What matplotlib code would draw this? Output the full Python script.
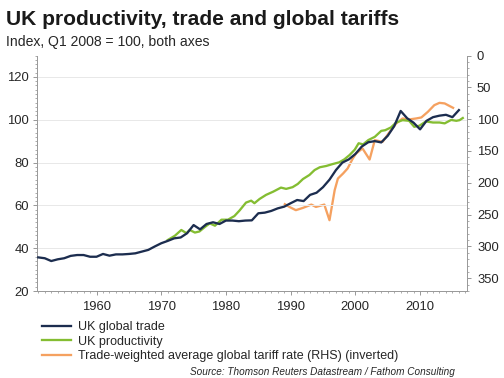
import matplotlib
matplotlib.use("Agg")
import matplotlib.pyplot as plt
from matplotlib.ticker import MultipleLocator
from matplotlib.lines import Line2D

plt.rcParams['font.family'] = ['Liberation Sans', 'DejaVu Sans']

# ---- data ----
trade_years = list(range(1951, 2017))
trade_vals = [35.7, 35.3, 34.0, 34.8, 35.3, 36.4, 36.8, 36.8, 36.0, 36.0,
              37.3, 36.5, 37.1, 37.1, 37.3, 37.6, 38.4, 39.2, 40.8, 42.3,
              43.4, 44.6, 45.0, 47.0, 50.8, 48.8, 51.3, 52.1, 51.3, 52.9,
              52.9, 52.6, 52.9, 53.0, 56.3, 56.6, 57.4, 58.6, 59.4, 61.0,
              62.5, 62.0, 64.9, 65.9, 68.5, 72.0, 76.5, 80.0, 81.5, 84.0,
              87.5, 89.5, 90.0, 89.4, 92.5, 97.0, 104.1, 100.7, 98.6, 95.5,
              99.5, 101.2, 101.9, 102.3, 101.2, 104.5]

prod_years = [1971.0, 1972.1, 1973.1, 1973.9, 1974.4, 1975.2, 1975.9, 1976.7,
              1977.5, 1978.3, 1979.3, 1980.3, 1981.3, 1982.1, 1983.1, 1983.9,
              1984.4, 1985.2, 1986.2, 1987.3, 1988.5, 1989.3, 1990.3, 1991.1,
              1991.9, 1992.9, 1993.7, 1994.5, 1995.5, 1996.5, 1997.5, 1998.3,
              1999.1, 1999.9, 2000.5, 2001.2, 2002.0, 2003.0, 2004.0, 2004.6,
              2005.5, 2006.3, 2007.3, 2008.3, 2009.1, 2009.9, 2010.9, 2012.0,
              2013.0, 2013.8, 2014.8, 2015.6, 2016.1, 2016.6]
prod_vals = [43.8, 45.8, 48.5, 47.0, 48.5, 47.3, 47.8, 49.8,
             51.6, 50.5, 53.3, 53.3, 55.0, 57.6, 61.3, 62.2,
             61.0, 63.0, 64.9, 66.4, 68.3, 67.7, 68.5, 70.0,
             72.3, 74.2, 76.5, 77.8, 78.4, 79.3, 80.1, 81.5,
             83.5, 86.0, 89.0, 88.5, 90.5, 92.0, 94.8, 95.1,
             96.4, 98.7, 99.8, 99.5, 96.7, 97.2, 99.2, 98.7,
             98.7, 98.3, 99.9, 99.5, 99.8, 100.8]

tariff_years = [1989.1, 1989.8, 1990.8, 1991.9, 1993.2, 1993.9, 1994.5, 1995.2,
                1996.0, 1996.8, 1997.3, 1998.1, 1998.8, 1999.6, 2000.1, 2001.1,
                2002.2, 2003.0, 2004.2, 2005.3, 2006.3, 2007.3, 2008.3, 2009.4,
                2010.2, 2011.2, 2012.2, 2013.0, 2013.8, 2014.6, 2015.1]
tariff_vals = [233.6, 237.9, 243.0, 239.4, 234.2, 237.9, 236.3, 234.2,
               258.8, 211.6, 193.3, 185.4, 177.5, 161.8, 154.0, 146.0,
               163.4, 133.0, 135.7, 120.0, 106.8, 98.9, 100.5, 98.9,
               97.3, 88.5, 78.0, 74.4, 75.3, 79.6, 82.2]

labels = ["UK global trade", "UK productivity",
          "Trade-weighted average global tariff rate (RHS) (inverted)"]
x_ticks = [1960, 1970, 1980, 1990, 2000, 2010]
left_ticks = [20, 40, 60, 80, 100, 120]
right_ticks = [0, 50, 100, 150, 200, 250, 300, 350]

NAVY = "#1c2d4f"
GREEN = "#84bd32"
ORANGE = "#f5a160"
SPINE = "#9a9a9a"
TXT = "#262626"

fig = plt.figure(figsize=(7, 5.25), dpi=72)
ax = fig.add_axes([37/504, 1-291/378, (467-37)/504, (291-55.5)/378])
ax2 = ax.twinx()

ax.plot(trade_years, trade_vals, color=NAVY, lw=2.3, zorder=4)
ax.plot(prod_years, prod_vals, color=GREEN, lw=2.3, zorder=3)
ax2.plot(tariff_years, tariff_vals, color=ORANGE, lw=2.3, zorder=2)

ax.set_zorder(ax2.get_zorder() + 1)
ax.patch.set_visible(False)

ax.set_xlim(1950.8, 2017.25)
ax.set_ylim(20, 130)
ax2.set_ylim(370, 0)

ax.set_xticks(x_ticks)
ax.xaxis.set_minor_locator(MultipleLocator(1))
ax.set_yticks(left_ticks)
ax.yaxis.set_minor_locator(MultipleLocator(2))
ax2.set_yticks(right_ticks)
ax2.yaxis.set_minor_locator(MultipleLocator(10))

for y in left_ticks[1:]:
    ax.axhline(y, color="#e8e8e8", lw=1, zorder=0)

for a in (ax, ax2):
    for s in a.spines.values():
        s.set_color(SPINE)
        s.set_linewidth(1)
    a.spines['top'].set_visible(False)
    a.tick_params(which='major', direction='out', length=4, color=SPINE,
                  labelsize=13, labelcolor=TXT, width=1)
    a.tick_params(which='minor', direction='out', length=2, color=SPINE, width=0.8)
ax.tick_params(axis='y', pad=4)
ax2.tick_params(axis='y', pad=6)
ax.tick_params(axis='x', pad=6)

fig.text(6/504, 1-25/378, "UK productivity, trade and global tariffs",
         fontsize=21, fontweight='bold', color="#1a1a1a", ha='left', va='baseline')
fig.text(6/504, 1-46/378, "Index, Q1 2008 = 100, both axes",
         fontsize=14, color=TXT, ha='left', va='baseline')

handles = [Line2D([], [], color=c, lw=2.3) for c in (NAVY, GREEN, ORANGE)]
fig.legend(handles, labels, loc='upper left', bbox_to_anchor=(42/504, 1-321/378),
           frameon=False, fontsize=12.5, handlelength=2.3, handletextpad=0.55,
           labelspacing=0.2, borderpad=0, borderaxespad=0, labelcolor=TXT)

fig.text(455/504, 1-375/378, "Source: Thomson Reuters Datastream / Fathom Consulting",
         fontsize=10, style='italic', color=TXT, ha='right', va='baseline')

fig.savefig("out.png", dpi=72)
